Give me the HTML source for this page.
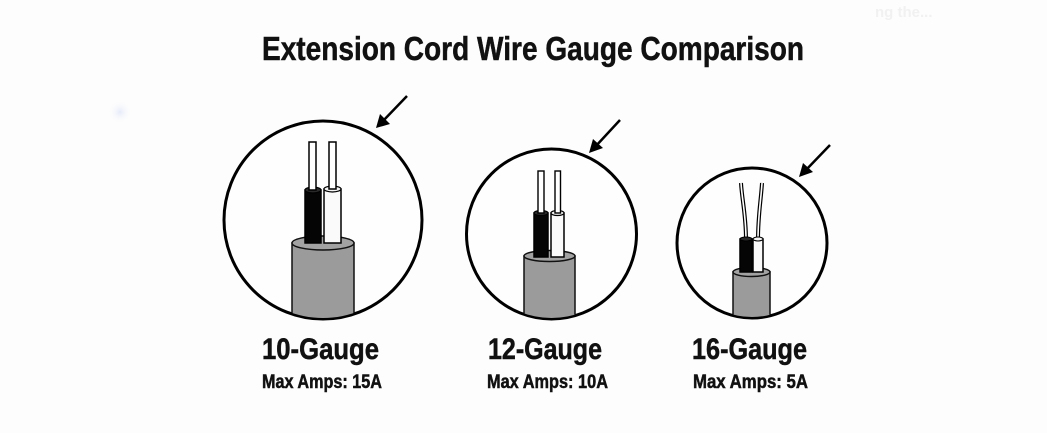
<!DOCTYPE html>
<html>
<head>
<meta charset="utf-8">
<style>
  html, body { margin: 0; padding: 0; background: #fdfdfd; }
  body { width: 1047px; height: 433px; overflow: hidden; }
  svg { display: block; }
  text { font-family: "Liberation Sans", "DejaVu Sans", sans-serif; font-weight: bold; fill: #111; stroke: #111; stroke-width: 0.5; }
</style>
</head>
<body>
<svg width="1047" height="433" viewBox="0 0 1047 433" xmlns="http://www.w3.org/2000/svg">
  <defs>
    <clipPath id="c1"><circle cx="323" cy="220" r="98"/></clipPath>
    <clipPath id="c2"><circle cx="551.5" cy="234" r="84"/></clipPath>
    <clipPath id="c3"><circle cx="752" cy="243" r="74"/></clipPath>
    <radialGradient id="blue" cx="0.5" cy="0.5" r="0.5">
      <stop offset="0" stop-color="#e6ebfa"/>
      <stop offset="1" stop-color="#fdfdfd" stop-opacity="0"/>
    </radialGradient>
  </defs>

  <rect width="1047" height="433" fill="#fdfdfd"/>

  <!-- faint artifacts -->
  <circle cx="120" cy="112" r="12" fill="url(#blue)"/>
  <text x="875" y="17" font-size="15" style="fill:#f1f1f1;stroke:none" font-weight="bold">ng the...</text>

  <!-- Title -->
  <text x="262" y="60" font-size="33.5" textLength="542" lengthAdjust="spacingAndGlyphs">Extension Cord Wire Gauge Comparison</text>

  <!-- ===== Circle 1 : 10-Gauge ===== -->
  <circle cx="323" cy="220" r="99" fill="#fefefe" stroke="#000" stroke-width="3"/>
  <g clip-path="url(#c1)">
    <rect x="292" y="243" width="62" height="90" fill="#9b9b9b" stroke="#111" stroke-width="1.5"/>
  </g>
  <ellipse cx="323" cy="243" rx="31" ry="7" fill="#a2a2a2" stroke="#111" stroke-width="1.5"/>
  <rect x="305" y="190" width="16" height="53" fill="#050505" stroke="#000" stroke-width="1.5"/>
  <ellipse cx="313" cy="190" rx="8" ry="3" fill="#2a2a2a" stroke="#000" stroke-width="1.2"/>
  <rect x="324" y="189" width="17" height="54" fill="#fafafa" stroke="#000" stroke-width="1.5"/>
  <ellipse cx="332.5" cy="189" rx="8.5" ry="3" fill="#f4f4f4" stroke="#000" stroke-width="1.2"/>
  <rect x="309" y="142" width="7" height="48" fill="#fff" stroke="#000" stroke-width="1.5"/>
  <rect x="329" y="142" width="7" height="47" fill="#fff" stroke="#000" stroke-width="1.5"/>
  <line x1="407" y1="96" x2="382" y2="122" stroke="#000" stroke-width="2.5"/>
  <polygon points="376,128 380,114 390,124" fill="#000"/>

  <!-- ===== Circle 2 : 12-Gauge ===== -->
  <circle cx="551.5" cy="234" r="85" fill="#fefefe" stroke="#000" stroke-width="3"/>
  <g clip-path="url(#c2)">
    <rect x="524" y="256" width="51" height="80" fill="#9b9b9b" stroke="#111" stroke-width="1.5"/>
  </g>
  <ellipse cx="549.5" cy="256" rx="25.5" ry="5.5" fill="#a2a2a2" stroke="#111" stroke-width="1.5"/>
  <rect x="534" y="213" width="14" height="44" fill="#050505" stroke="#000" stroke-width="1.5"/>
  <ellipse cx="541" cy="213" rx="7" ry="2.5" fill="#2a2a2a" stroke="#000" stroke-width="1.2"/>
  <rect x="551" y="213" width="13" height="44" fill="#fafafa" stroke="#000" stroke-width="1.5"/>
  <ellipse cx="557.5" cy="213" rx="6.5" ry="2.5" fill="#f4f4f4" stroke="#000" stroke-width="1.2"/>
  <rect x="538" y="171" width="6" height="42" fill="#fff" stroke="#000" stroke-width="1.4"/>
  <rect x="555" y="171" width="5.5" height="42" fill="#fff" stroke="#000" stroke-width="1.4"/>
  <line x1="620" y1="120" x2="595" y2="147" stroke="#000" stroke-width="2.5"/>
  <polygon points="589,153 593,139 603,148" fill="#000"/>

  <!-- ===== Circle 3 : 16-Gauge ===== -->
  <circle cx="752" cy="243" r="75" fill="#fefefe" stroke="#000" stroke-width="3"/>
  <g clip-path="url(#c3)">
    <rect x="733" y="272" width="37" height="60" fill="#9b9b9b" stroke="#111" stroke-width="1.5"/>
  </g>
  <ellipse cx="751.5" cy="272" rx="18.5" ry="4.5" fill="#a2a2a2" stroke="#111" stroke-width="1.5"/>
  <path d="M746,240 C746,215 742,200 741,183" fill="none" stroke="#000" stroke-width="4"/>
  <path d="M746,240 C746,215 742,200 741,183" fill="none" stroke="#fff" stroke-width="1.6"/>
  <path d="M758,240 C758,215 761,200 762,183" fill="none" stroke="#000" stroke-width="4"/>
  <path d="M758,240 C758,215 761,200 762,183" fill="none" stroke="#fff" stroke-width="1.6"/>
  <rect x="740" y="239" width="12" height="33" fill="#050505" stroke="#000" stroke-width="1.5"/>
  <ellipse cx="746" cy="239" rx="6" ry="2" fill="#2a2a2a" stroke="#000" stroke-width="1.1"/>
  <rect x="753" y="239" width="10" height="33" fill="#fafafa" stroke="#000" stroke-width="1.5"/>
  <ellipse cx="758" cy="239" rx="5" ry="2" fill="#f4f4f4" stroke="#000" stroke-width="1.1"/>
  <line x1="830" y1="145" x2="805" y2="171" stroke="#000" stroke-width="2.5"/>
  <polygon points="799,177 803,163 813,172" fill="#000"/>

  <!-- Labels -->
  <text x="262" y="359" font-size="29.5" textLength="117" lengthAdjust="spacingAndGlyphs">10-Gauge</text>
  <text x="262" y="388" font-size="19" textLength="120" lengthAdjust="spacingAndGlyphs">Max Amps: 15A</text>

  <text x="488" y="359" font-size="29.5" textLength="114" lengthAdjust="spacingAndGlyphs">12-Gauge</text>
  <text x="487" y="388" font-size="19" textLength="121" lengthAdjust="spacingAndGlyphs">Max Amps: 10A</text>

  <text x="692" y="359" font-size="29.5" textLength="115" lengthAdjust="spacingAndGlyphs">16-Gauge</text>
  <text x="693" y="388" font-size="19" textLength="115" lengthAdjust="spacingAndGlyphs">Max Amps: 5A</text>
</svg>
</body>
</html>
